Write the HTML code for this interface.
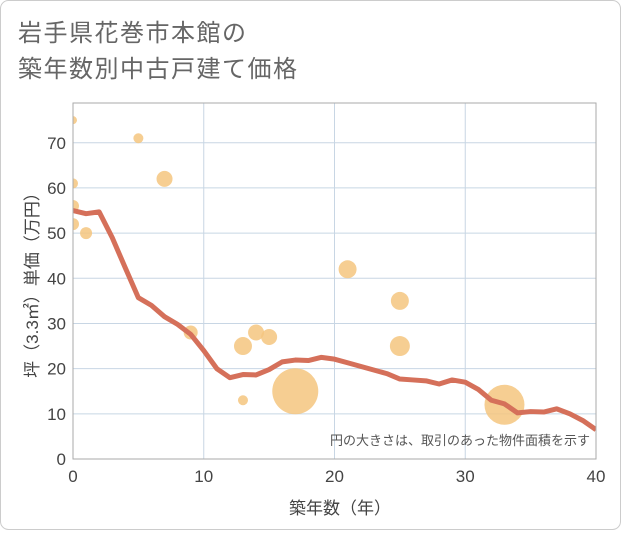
<!DOCTYPE html>
<html><head><meta charset="utf-8"><style>
body{margin:0;background:#fff;}
svg text{font-family:"Liberation Sans","Noto Sans CJK JP",sans-serif;}
</style></head><body>
<svg width="621" height="530" xmlns="http://www.w3.org/2000/svg">
<defs><clipPath id="pc"><rect x="73" y="103" width="523" height="356"/></clipPath></defs>
<rect x="0.5" y="0.5" width="620" height="529" rx="8" fill="#fff" stroke="#ccc"/>
<text x="18" y="41" font-size="24" fill="#666" letter-spacing="1.5">岩手県花巻市本館の</text>
<text x="18" y="77" font-size="24" fill="#666" letter-spacing="1.5">築年数別中古戸建て価格</text>
<g id="grid"></g>
<g id="bubbles" clip-path="url(#pc)"></g>
<path id="line" clip-path="url(#pc)" fill="none" stroke="#d5705a" stroke-width="5" stroke-linejoin="round"/>
<rect x="73" y="103" width="523" height="356" fill="none" stroke="#aaa"/>
<g id="ticks"></g>
<text x="590" y="445" font-size="13" fill="#555" text-anchor="end">円の大きさは、取引のあった物件面積を示す</text>
<text x="340" y="514" font-size="17" fill="#444" text-anchor="middle">築年数（年）</text>
<text transform="translate(38,281) rotate(-90)" font-size="17" fill="#444" text-anchor="middle">坪（3.3㎡）単価（万円）</text>
</svg>
<script>
const xTicks=[0,10,20,30,40];
const yTicks=[0,10,20,30,40,50,60,70];
const lineYears=[0,1,2,3,4,5,6,7,8,9,10,11,12,13,14,15,16,17,18,19,20,21,22,23,24,25,26,27,28,29,30,31,32,33,34,35,36,37,38,39,40];
const lineValues=[55,54.3,54.7,49,42.3,35.7,34,31.5,29.8,27.6,24,20,18,18.7,18.6,19.8,21.5,21.9,21.8,22.5,22.1,21.3,20.5,19.7,18.9,17.7,17.5,17.3,16.6,17.5,17,15.4,13,12.2,10.2,10.5,10.4,11.1,10,8.5,6.5];
const bubbleYears=[0,5,0,7,0,0,1,9,13,14,15,13,17,21,25,25,33];
const bubbleValues=[75,71,61,62,56,52,50,28,25,28,27,13,15,42,35,25,12];
const bubbleRadii=[4,5,5,8,6,6,6,7,9,8,8,5,23,9,9,10,20];
const NS="http://www.w3.org/2000/svg";
const X=v=>73+v*523/40, Y=v=>459-v*356/78.8;
function mk(t,a,p){const e=document.createElementNS(NS,t);for(const k in a)e.setAttribute(k,a[k]);p.appendChild(e);return e;}
const g=document.getElementById('grid'),tk=document.getElementById('ticks');
xTicks.forEach(v=>{const l=mk('line',{x1:X(v),x2:X(v),y1:103,y2:459,stroke:'#c8d6e4'},g);


const t=mk('text',{x:X(v),y:482,'font-size':17,fill:'#444','text-anchor':'middle'},tk);t.textContent=v;

});
yTicks.forEach(v=>{const l=mk('line',{x1:73,x2:596,y1:Y(v),y2:Y(v),stroke:'#c8d6e4'},g);


const t=mk('text',{x:66,y:Y(v)+6,'font-size':17,fill:'#444','text-anchor':'end'},tk);t.textContent=v;

});
const b=document.getElementById('bubbles');
bubbleYears.forEach((v,i)=>{const c=mk('circle',{cx:X(v),cy:Y(bubbleValues[i]),r:bubbleRadii[i],fill:'#f5c57f','fill-opacity':0.85},b);

});
document.getElementById('line').setAttribute('d',lineYears.map((v,i)=>(i?'L':'M')+X(v)+','+Y(lineValues[i])).join(''));
</script>
</body></html>
